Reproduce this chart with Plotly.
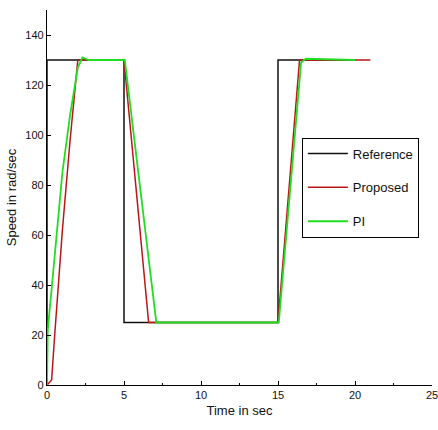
import plotly.graph_objects as go

ref_t = [0, 0, 5, 5, 15, 15, 20]
ref_v = [0, 130, 130, 25, 25, 130, 130]

prop_t = [0, 0.3, 0.5, 1.0, 1.5, 2.0, 5.0, 6.6, 15.0, 16.4, 21.0]
prop_v = [0, 2, 20, 62, 98, 130, 130, 25, 25, 130, 130]

pi_t = [0, 0.05, 0.4, 1.0, 1.5, 2.0, 2.3, 2.7, 5.05, 7.1, 15.05, 16.5, 16.8, 20.0]
pi_v = [0, 22, 45, 85, 108, 127, 131, 130, 130, 25, 25, 129, 130.5, 130]

x_ticks = [0, 5, 10, 15, 20, 25]
y_ticks = [0, 20, 40, 60, 80, 100, 120, 140]

font_narrow = "Liberation Sans Narrow, Arial Narrow, Liberation Sans, Arial, sans-serif"

fig = go.Figure()
fig.add_trace(go.Scatter(x=ref_t, y=ref_v, mode="lines", name="Reference",
                         line=dict(color="#111111", width=1.5), legendgroup="a"))
fig.add_trace(go.Scatter(x=prop_t, y=prop_v, mode="lines", name="Proposed",
                         line=dict(color="#bb1515", width=1.5), legendgroup="b"))
fig.add_trace(go.Scatter(x=pi_t, y=pi_v, mode="lines", name="PI",
                         line=dict(color="#22dd22", width=1.8), legendgroup="c"))

fig.update_layout(
    width=438, height=430,
    margin=dict(l=47, r=6, t=10, b=45, autoexpand=False),
    plot_bgcolor="white", paper_bgcolor="white",
    font=dict(family=font_narrow, size=11, color="#111111"),
    showlegend=True,
    legend=dict(x=0.662, y=0.66, xanchor="left", yanchor="top",
                bgcolor="white", bordercolor="black", borderwidth=1,
                font=dict(family=font_narrow, size=13, color="#111111"),
                itemwidth=40, tracegroupgap=14, traceorder="grouped"),
    xaxis=dict(range=[0, 25], tickvals=x_ticks, showline=True, linecolor="black",
               linewidth=1.2, ticks="inside", ticklen=4, tickcolor="black",
               showgrid=False, zeroline=False, automargin=True,
               ticklabeloverflow="allow",
               minor=dict(dtick=2.5, ticks="inside", ticklen=2, tickcolor="black"),
               title=dict(text="Time in sec", standoff=5,
                          font=dict(family=font_narrow, size=13))),
    yaxis=dict(range=[0, 150], tickvals=y_ticks, showline=True, linecolor="black",
               linewidth=1.2, ticks="inside", ticklen=4, tickcolor="black",
               showgrid=False, zeroline=False, automargin=True,
               ticklabeloverflow="allow",
               title=dict(text="Speed in rad/sec", standoff=5,
                          font=dict(family="Liberation Sans, Arial, sans-serif", size=13))),
)

fig.write_html("out.html", config={"displayModeBar": False},
               post_script="document.body.style.margin='0';document.body.style.overflow='hidden';")
